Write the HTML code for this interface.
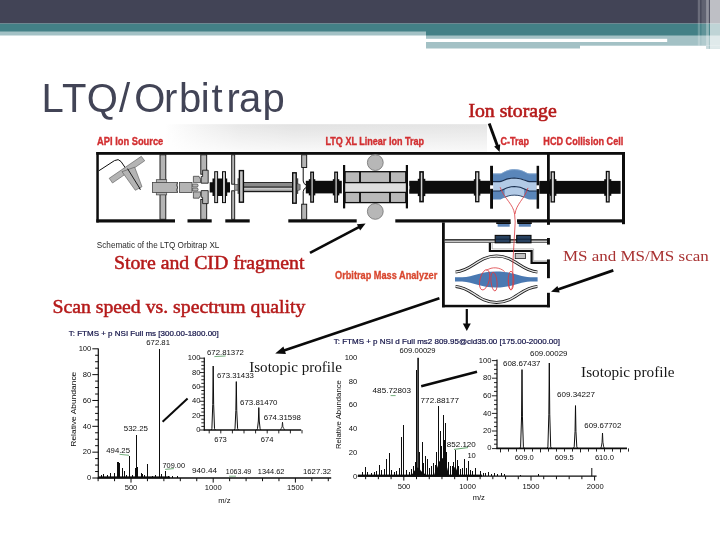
<!DOCTYPE html>
<html lang="en"><head><meta charset="utf-8"><title>LTQ/Orbitrap</title>
<style>html,body{margin:0;padding:0;background:#fff;}body{width:720px;height:540px;overflow:hidden;}svg{display:block;}</style>
</head><body>
<svg width="720" height="540" viewBox="0 0 720 540">
<defs>
<linearGradient id="gh" x1="0" y1="0" x2="1" y2="0"><stop offset="0" stop-color="#ffffff"/><stop offset="0.11" stop-color="#f3f3f3"/><stop offset="0.23" stop-color="#e8e8e8"/><stop offset="0.4" stop-color="#e2e2e2"/><stop offset="1" stop-color="#e5e5e5"/></linearGradient>
<linearGradient id="gv" x1="0" y1="0" x2="0" y2="1"><stop offset="0" stop-color="#ffffff" stop-opacity="0"/><stop offset="1" stop-color="#ffffff" stop-opacity="0.8"/></linearGradient>
<linearGradient id="rod" x1="0" y1="0" x2="0" y2="1"><stop offset="0" stop-color="#222"/><stop offset="0.1" stop-color="#333"/><stop offset="0.13" stop-color="#8a8a8a"/><stop offset="0.38" stop-color="#8a8a8a"/><stop offset="0.42" stop-color="#555"/><stop offset="0.54" stop-color="#555"/><stop offset="0.58" stop-color="#c8c8c8"/><stop offset="0.72" stop-color="#c8c8c8"/><stop offset="0.76" stop-color="#999"/><stop offset="0.88" stop-color="#999"/><stop offset="0.91" stop-color="#1a1a1a"/><stop offset="1" stop-color="#1a1a1a"/></linearGradient>
</defs>
<rect x="0" y="0" width="720" height="540" fill="#ffffff"/>
<g id="header">
<rect x="0.00" y="0.00" width="720.00" height="23.60" fill="#424456" />
<rect x="0.00" y="23.60" width="426.00" height="8.20" fill="#438086" />
<rect x="0.00" y="31.80" width="426.00" height="3.70" fill="#a3c1c5" />
<rect x="426.00" y="23.60" width="294.00" height="12.20" fill="#438086" />
<rect x="426.00" y="35.80" width="294.00" height="9.90" fill="#a3c1c5" />
<rect x="426.00" y="38.80" width="241.20" height="3.20" fill="#ffffff" />
<rect x="426.00" y="42.00" width="154.00" height="6.50" fill="#a3c1c5" />
<rect x="706.10" y="45.70" width="13.90" height="3.20" fill="#a3c1c5" />
<rect x="697.80" y="0.00" width="2.40" height="45.70" fill="#ffffff" opacity="0.22"/>
<rect x="701.40" y="0.00" width="4.70" height="45.70" fill="#ffffff" opacity="0.16"/>
<rect x="706.10" y="0.00" width="2.80" height="48.90" fill="#ffffff" opacity="0.42"/>
<rect x="709.90" y="0.00" width="10.10" height="48.90" fill="#ffffff" opacity="0.66"/>
</g>
<text x="41.6 61.9 86.8 118.9 134.2 164 179 200.8 211.4 226.6 238.9 262.6" y="112.3" font-family='"Liberation Sans", sans-serif' font-size="40" fill="#424456">LTQ/Orbitrap</text>
<g id="schematic">
<rect x="165.00" y="124.20" width="322.00" height="27.80" fill="url(#gh)" />
<rect x="165.00" y="124.20" width="322.00" height="27.80" fill="url(#gv)" />
<text x="97.0" y="144.8" font-family='"Liberation Sans", sans-serif' font-size="10.4" font-weight="bold" fill="#d22f31" text-anchor="start" textLength="66.3" lengthAdjust="spacingAndGlyphs" stroke="#d22f31" stroke-width="0.35">API Ion Source</text>
<text x="325.5" y="144.8" font-family='"Liberation Sans", sans-serif' font-size="10.4" font-weight="bold" fill="#d22f31" text-anchor="start" textLength="98.5" lengthAdjust="spacingAndGlyphs" stroke="#d22f31" stroke-width="0.35">LTQ XL Linear Ion Trap</text>
<text x="500.4" y="144.6" font-family='"Liberation Sans", sans-serif' font-size="10.4" font-weight="bold" fill="#d22f31" text-anchor="start" textLength="28.6" lengthAdjust="spacingAndGlyphs" stroke="#d22f31" stroke-width="0.35">C-Trap</text>
<text x="543.3" y="144.6" font-family='"Liberation Sans", sans-serif' font-size="10.4" font-weight="bold" fill="#d22f31" text-anchor="start" textLength="80.0" lengthAdjust="spacingAndGlyphs" stroke="#d22f31" stroke-width="0.35">HCD Collision Cell</text>
<text x="335.0" y="279.3" font-family='"Liberation Sans", sans-serif' font-size="10.4" font-weight="bold" fill="#d9472f" text-anchor="start" textLength="102.3" lengthAdjust="spacingAndGlyphs" stroke="#d9472f" stroke-width="0.3">Orbitrap Mass Analyzer</text>
<text x="96.8" y="248.0" font-family='"Liberation Sans", sans-serif' font-size="9.8" font-weight="normal" fill="#2a2a2a" text-anchor="start" textLength="122.6" lengthAdjust="spacingAndGlyphs" >Schematic of the LTQ Orbitrap XL</text>
<rect x="96.30" y="152.00" width="528.70" height="2.80" fill="#0d0d0d" />
<rect x="96.30" y="152.00" width="2.50" height="70.50" fill="#0d0d0d" />
<rect x="622.00" y="152.00" width="3.00" height="72.20" fill="#0d0d0d" />
<rect x="96.30" y="219.30" width="78.70" height="3.20" fill="#0d0d0d" />
<rect x="187.50" y="219.30" width="24.20" height="3.20" fill="#0d0d0d" />
<rect x="225.30" y="219.30" width="24.40" height="3.20" fill="#0d0d0d" />
<rect x="288.30" y="219.30" width="68.40" height="3.20" fill="#0d0d0d" />
<rect x="395.30" y="219.30" width="115.30" height="3.20" fill="#0d0d0d" />
<rect x="517.00" y="219.30" width="108.00" height="3.20" fill="#0d0d0d" />
<path d="M98.8,170.8 L114.5,160.6 Q118.5,158.2 121,161.5 L140.2,189.6" fill="none" stroke="#0d0d0d" stroke-width="1.0" />
<path d="M109.2,178.3 L141.3,156.3 L144.7,160.8 L112.5,183 Z" fill="#b4b4b4" stroke="#555" stroke-width="0.6" />
<path d="M122,171.7 L134.7,167.2 L142,186.7 L135.3,190.3 Z" fill="#b4b4b4" stroke="#555" stroke-width="0.6" />
<path d="M127.5,168.6 L140.4,189.4" fill="none" stroke="#0d0d0d" stroke-width="0.9" />
<rect x="160.00" y="154.80" width="5.80" height="25.20" fill="#b4b4b4" stroke="#0d0d0d" stroke-width="0.9" />
<rect x="160.00" y="194.50" width="5.80" height="24.80" fill="#b4b4b4" stroke="#0d0d0d" stroke-width="0.9" />
<rect x="156.30" y="179.70" width="10.40" height="15.20" fill="#b4b4b4" stroke="#444" stroke-width="0.7" />
<rect x="152.50" y="182.50" width="25.00" height="10.00" fill="#b4b4b4" stroke="#444" stroke-width="0.8" />
<path d="M177.5,182.5 q-1.6,2.5 0,5 q-1.6,2.5 0,5" fill="#fff" stroke="#222" stroke-width="0.8" />
<rect x="179.40" y="182.50" width="12.60" height="10.00" fill="#b4b4b4" stroke="#444" stroke-width="0.8" />
<path d="M193.4,176.3 L199,176.3 Q201.4,179 200.6,182.6 L193.4,182.6 Z" fill="#b4b4b4" stroke="#333" stroke-width="0.7" />
<path d="M193.4,198.2 L199,198.2 Q201.4,195.5 200.6,191.9 L193.4,191.9 Z" fill="#b4b4b4" stroke="#333" stroke-width="0.7" />
<path d="M192.6,184 L197.5,184 Q198.8,185.5 197.5,187 L192.6,187 Z" fill="#b4b4b4" stroke="#333" stroke-width="0.6" />
<path d="M192.6,188 L197.5,188 Q198.8,189.5 197.5,191 L192.6,191 Z" fill="#b4b4b4" stroke="#333" stroke-width="0.6" />
<rect x="200.80" y="154.80" width="5.90" height="19.40" fill="#b4b4b4" stroke="#0d0d0d" stroke-width="0.9" />
<rect x="200.80" y="199.40" width="5.90" height="19.90" fill="#b4b4b4" stroke="#0d0d0d" stroke-width="0.9" />
<path d="M202.6,170.2 L208.2,170.2 L208.2,183.2 L201.2,183.2 L201.2,176.5 L202.6,176.5 Z" fill="#b4b4b4" stroke="#0d0d0d" stroke-width="0.8" />
<path d="M202.6,203.6 L208.2,203.6 L208.2,190.6 L201.2,190.6 L201.2,197.3 L202.6,197.3 Z" fill="#b4b4b4" stroke="#0d0d0d" stroke-width="0.8" />
<path d="M209.7,182.2 L212.5,182.2 L212.5,178.5 L227.2,178.5 L227.2,182.2 L230,182.2 L230,192.4 L227.2,192.4 L227.2,196 L212.5,196 L212.5,192.4 L209.7,192.4 Z" fill="#0d0d0d" />
<rect x="214.70" y="171.70" width="2.90" height="30.90" fill="#c4c4c4" stroke="#0d0d0d" stroke-width="1.0" />
<rect x="222.50" y="171.70" width="3.00" height="30.90" fill="#c4c4c4" stroke="#0d0d0d" stroke-width="1.0" />
<rect x="231.70" y="154.80" width="3.00" height="29.40" fill="#b4b4b4" stroke="#0d0d0d" stroke-width="0.9" />
<rect x="231.70" y="190.80" width="3.00" height="28.50" fill="#b4b4b4" stroke="#0d0d0d" stroke-width="0.9" />
<rect x="234.70" y="184.60" width="4.30" height="5.60" fill="#9a9a9a" stroke="#222" stroke-width="0.6" />
<rect x="243.70" y="182.00" width="48.30" height="10.20" fill="url(#rod)" />
<rect x="239.40" y="170.60" width="4.00" height="31.60" fill="#c4c4c4" stroke="#0d0d0d" stroke-width="1.4" />
<rect x="237.60" y="178.30" width="1.60" height="15.60" fill="#444" />
<rect x="292.70" y="172.80" width="3.50" height="30.40" fill="#c4c4c4" stroke="#0d0d0d" stroke-width="1.4" />
<rect x="296.90" y="178.30" width="1.30" height="15.60" fill="#444" />
<path d="M297,183.5 L300.2,184.5 L300.2,189.8 L297,190.8 Z" fill="#8a8a8a" stroke="#222" stroke-width="0.5" />
<rect x="301.70" y="154.80" width="5.00" height="12.70" fill="#b4b4b4" stroke="#0d0d0d" stroke-width="0.9" />
<rect x="301.70" y="204.20" width="5.00" height="15.10" fill="#b4b4b4" stroke="#0d0d0d" stroke-width="0.9" />
<path d="M303.2,167.5 L303.2,181 Q303.4,184 306.3,185.2" fill="none" stroke="#0d0d0d" stroke-width="1.0" />
<path d="M303.2,204.2 L303.2,191.6 Q303.4,188.6 306.3,187.4" fill="none" stroke="#0d0d0d" stroke-width="1.0" />
<rect x="305.80" y="180.80" width="36.00" height="12.60" fill="#0d0d0d" />
<rect x="308.80" y="179.20" width="6.50" height="16.20" fill="#0d0d0d" />
<rect x="332.80" y="179.20" width="6.50" height="16.20" fill="#0d0d0d" />
<rect x="310.80" y="172.20" width="2.60" height="29.90" fill="#d0d0d0" stroke="#0d0d0d" stroke-width="1.3" />
<rect x="334.80" y="172.20" width="2.60" height="29.90" fill="#d0d0d0" stroke="#0d0d0d" stroke-width="1.3" />
<circle cx="375.3" cy="162.6" r="7.9" fill="#b7b7b7" stroke="#7a7a7a" stroke-width="0.9"/>
<circle cx="375.3" cy="211.4" r="7.9" fill="#b7b7b7" stroke="#7a7a7a" stroke-width="0.9"/>
<rect x="345.00" y="183.00" width="60.80" height="8.80" fill="#dedede" />
<rect x="345.00" y="171.70" width="60.80" height="10.90" fill="#b9b9b9" stroke="#0d0d0d" stroke-width="1.3" />
<rect x="345.00" y="192.40" width="60.80" height="10.20" fill="#b9b9b9" stroke="#0d0d0d" stroke-width="1.3" />
<rect x="359.10" y="171.70" width="1.80" height="10.90" fill="#0d0d0d" />
<rect x="359.10" y="192.40" width="1.80" height="10.20" fill="#0d0d0d" />
<rect x="389.10" y="171.70" width="1.80" height="10.90" fill="#0d0d0d" />
<rect x="389.10" y="192.40" width="1.80" height="10.20" fill="#0d0d0d" />
<rect x="343.00" y="165.00" width="2.20" height="43.40" fill="#0d0d0d" />
<rect x="405.80" y="165.00" width="2.20" height="43.40" fill="#0d0d0d" />
<rect x="409.20" y="180.80" width="80.80" height="12.90" fill="#0d0d0d" />
<rect x="408.00" y="185.80" width="1.40" height="3.60" fill="#fff" />
<rect x="417.80" y="178.80" width="7.50" height="17.30" fill="#0d0d0d" />
<rect x="473.80" y="179.20" width="6.60" height="16.40" fill="#0d0d0d" />
<rect x="420.00" y="171.90" width="3.10" height="29.70" fill="#d4d4d4" stroke="#0d0d0d" stroke-width="1.6" />
<rect x="475.70" y="171.80" width="3.10" height="29.90" fill="#d4d4d4" stroke="#0d0d0d" stroke-width="1.3" />
<path d="M492.8,173.60 L499.5,173.60 C503.0,173.60 505,169.50 514.4,169.30 C524,169.50 526.0,173.60 529.5,173.60 L536.8,173.60 L536.8,181.60 L529.5,181.60 C526.0,181.60 524,178.20 514.4,178.00 C505,178.20 503.0,181.60 499.5,181.60 L492.8,181.60 Z" fill="#5a86ba" />
<path d="M492.8,181.60 L499.5,181.60 C503.0,181.60 505,178.20 514.4,178.00 C524,178.20 526.0,181.60 529.5,181.60 L536.8,181.60 L536.8,191.00 L529.5,191.00 C526.0,191.00 524,186.70 514.4,186.50 C505,186.70 503.0,191.00 499.5,191.00 L492.8,191.00 Z" fill="#b2cae6" />
<path d="M492.8,191.00 L499.5,191.00 C503.0,191.00 505,186.70 514.4,186.50 C524,186.70 526.0,191.00 529.5,191.00 L536.8,191.00 L536.8,199.50 L529.5,199.50 C526.0,199.50 524,195.50 514.4,195.30 C505,195.50 503.0,199.50 499.5,199.50 L492.8,199.50 Z" fill="#5a86ba" />
<clipPath id="slot"><rect x="504.6" y="180" width="19.6" height="24"/></clipPath>
<path d="M492.8,191.00 L499.5,191.00 C503.0,191.00 505,186.70 514.4,186.50 C524,186.70 526.0,191.00 529.5,191.00 L536.8,191.00 L536.8,199.50 L529.5,199.50 C526.0,199.50 524,195.50 514.4,195.30 C505,195.50 503.0,199.50 499.5,199.50 L492.8,199.50 Z" fill="#b2cae6" clip-path="url(#slot)"/>
<path d="M492.8,173.90 L499.5,173.90 C503.0,173.90 505,169.80 514.4,169.60 C524,169.80 526.0,173.90 529.5,173.90 L536.8,173.90" fill="none" stroke="#8fb0d6" stroke-width="0.7" />
<path d="M492.8,181.60 L499.5,181.60 C503.0,181.60 505,178.20 514.4,178.00 C524,178.20 526.0,181.60 529.5,181.60 L536.8,181.60" fill="none" stroke="#1b3050" stroke-width="1.1" />
<path d="M492.8,191.00 L499.5,191.00 C503.0,191.00 505,186.70 514.4,186.50 C524,186.70 526.0,191.00 529.5,191.00 L536.8,191.00" fill="none" stroke="#1b3050" stroke-width="1.1" />
<path d="M492.8,199.30 L499.5,199.30 C503.0,199.30 505,195.30 514.4,195.10 C524,195.30 526.0,199.30 529.5,199.30 L536.8,199.30" fill="none" stroke="#1b3050" stroke-width="0.8" clip-path="url(#slot)"/>
<rect x="490.10" y="165.80" width="2.90" height="42.90" fill="#0d0d0d" />
<rect x="536.60" y="165.80" width="2.50" height="42.90" fill="#0d0d0d" />
<rect x="490.10" y="185.30" width="3.10" height="3.50" fill="#fff" />
<rect x="536.40" y="185.30" width="2.70" height="3.70" fill="#fff" />
<rect x="539.30" y="180.90" width="81.30" height="12.90" fill="#0d0d0d" />
<rect x="547.00" y="152.00" width="2.80" height="72.60" fill="#0d0d0d" />
<rect x="549.80" y="179.20" width="6.60" height="16.60" fill="#0d0d0d" />
<rect x="604.20" y="179.20" width="7.10" height="16.60" fill="#0d0d0d" />
<rect x="551.20" y="171.90" width="3.20" height="30.00" fill="#d4d4d4" stroke="#0d0d0d" stroke-width="1.3" />
<rect x="606.40" y="171.50" width="2.70" height="30.40" fill="#d4d4d4" stroke="#0d0d0d" stroke-width="1.3" />
<rect x="442.00" y="222.40" width="2.80" height="84.90" fill="#0d0d0d" />
<rect x="442.00" y="304.80" width="107.90" height="2.50" fill="#0d0d0d" />
<rect x="547.00" y="222.00" width="2.90" height="2.60" fill="#0d0d0d" />
<rect x="547.00" y="238.00" width="2.90" height="6.60" fill="#0d0d0d" />
<rect x="547.00" y="259.40" width="2.90" height="18.80" fill="#0d0d0d" />
<rect x="547.00" y="292.80" width="2.90" height="14.50" fill="#0d0d0d" />
<rect x="444.80" y="239.20" width="102.20" height="1.50" fill="#0d0d0d" />
<rect x="444.80" y="240.70" width="102.20" height="1.50" fill="#c8c8c8" />
<rect x="444.80" y="242.20" width="102.20" height="0.70" fill="#333" />
<path d="M489.9,242.8 L489.9,251 L531.6,251 L531.6,262.8 L547,262.8" fill="none" stroke="#0d0d0d" stroke-width="2.2" />
<path d="M492.2,242.8 L492.2,248.9 L533.6,248.9 L533.6,260.8 L547,260.8" fill="none" stroke="#8a8a8a" stroke-width="0.6" />
<rect x="515.20" y="253.40" width="10.20" height="5.20" fill="#c3c3c3" stroke="#222" stroke-width="0.8" />
<rect x="497.60" y="222.40" width="12.10" height="4.30" fill="#5c83b6" />
<rect x="496.20" y="222.20" width="14.50" height="1.80" fill="#0d0d0d" />
<rect x="518.80" y="222.40" width="12.00" height="4.30" fill="#5c83b6" />
<rect x="517.40" y="222.20" width="14.40" height="1.80" fill="#0d0d0d" />
<rect x="495.20" y="235.40" width="14.90" height="7.40" fill="#28415f" stroke="#0d0d0d" stroke-width="1.1" />
<line x1="495.20" y1="239.20" x2="510.10" y2="239.20" stroke="#0b1a30" stroke-width="0.8" />
<rect x="516.70" y="235.40" width="14.30" height="7.40" fill="#28415f" stroke="#0d0d0d" stroke-width="1.1" />
<line x1="516.70" y1="239.20" x2="531.00" y2="239.20" stroke="#0b1a30" stroke-width="0.8" />
<path d="M455.6,272.0 C472,271.0 478,256.0 496.5,256.0 C515,256.0 521,271.0 537.4,272.0" fill="none" stroke="#1a1a1a" stroke-width="3.0" />
<path d="M455.6,272.0 C472,271.0 478,256.0 496.5,256.0 C515,256.0 521,271.0 537.4,272.0" fill="none" stroke="#e4e4e4" stroke-width="1.3" />
<path d="M455.6,286.4 C472,287.4 478,302.4 496.5,302.4 C515,302.4 521,287.4 537.4,286.4" fill="none" stroke="#1a1a1a" stroke-width="3.0" />
<path d="M455.6,286.4 C472,287.4 478,302.4 496.5,302.4 C515,302.4 521,287.4 537.4,286.4" fill="none" stroke="#e4e4e4" stroke-width="1.3" />
<path d="M455,277.2 L462,277.2 C474,276.6 480,271.4 496.3,271.4 C512.5,271.4 518.5,276.6 530.4,277.2 L537.6,277.2 L537.6,281.6 L530.4,281.6 C518.5,282.2 512.5,287.6 496.3,287.6 C480,287.6 474,282.2 462,281.6 L455,281.6 Z" fill="#4a79b2" />
<path d="M500.1,187.2 C504.5,199 513.2,204 514.6,214 L515.2,222 L512.8,264 C512.6,275 513.6,285 511.8,288.6 C510.2,291 508.4,288 508.6,280" fill="none" stroke="#dc3a3f" stroke-width="0.8" />
<path d="M528,187.9 C524.5,199 516.2,204 515,214" fill="none" stroke="#dc3a3f" stroke-width="0.8" />
<ellipse cx="484.6" cy="279.8" rx="4.6" ry="10.4" fill="none" stroke="#dc3a3f" stroke-width="0.8" transform="rotate(14 484.6 279.8)"/>
<ellipse cx="494" cy="281.6" rx="3" ry="9.4" fill="none" stroke="#dc3a3f" stroke-width="0.8" transform="rotate(-6 494 281.6)"/>
<path d="M486.6,270.4 C492,266.4 500,267.2 504.6,271.6" fill="none" stroke="#dc3a3f" stroke-width="0.8" />
<ellipse cx="511" cy="280.6" rx="2.8" ry="9.4" fill="none" stroke="#dc3a3f" stroke-width="0.8"/>
</g>
<g id="spectra">
<text x="68.8" y="336.3" font-family='"Liberation Sans", sans-serif' font-size="7.6" font-weight="normal" fill="#101046" text-anchor="start" textLength="150.0" lengthAdjust="spacingAndGlyphs" stroke="#101046" stroke-width="0.2">T: FTMS + p NSI Full ms [300.00-1800.00]</text>
<text x="146.3" y="345.1" font-family='"Liberation Sans", sans-serif' font-size="7.6" font-weight="normal" fill="#0d0d0d" text-anchor="start" textLength="23.7" lengthAdjust="spacingAndGlyphs" >672.81</text>
<line x1="98.30" y1="348.40" x2="98.30" y2="478.60" stroke="#0d0d0d" stroke-width="1.2" />
<line x1="92.30" y1="348.80" x2="98.30" y2="348.80" stroke="#0d0d0d" stroke-width="1.0" />
<line x1="95.10" y1="355.26" x2="98.30" y2="355.26" stroke="#0d0d0d" stroke-width="1.0" />
<line x1="95.10" y1="361.72" x2="98.30" y2="361.72" stroke="#0d0d0d" stroke-width="1.0" />
<line x1="95.10" y1="368.18" x2="98.30" y2="368.18" stroke="#0d0d0d" stroke-width="1.0" />
<line x1="92.30" y1="374.64" x2="98.30" y2="374.64" stroke="#0d0d0d" stroke-width="1.0" />
<line x1="95.10" y1="381.10" x2="98.30" y2="381.10" stroke="#0d0d0d" stroke-width="1.0" />
<line x1="95.10" y1="387.56" x2="98.30" y2="387.56" stroke="#0d0d0d" stroke-width="1.0" />
<line x1="95.10" y1="394.02" x2="98.30" y2="394.02" stroke="#0d0d0d" stroke-width="1.0" />
<line x1="92.30" y1="400.48" x2="98.30" y2="400.48" stroke="#0d0d0d" stroke-width="1.0" />
<line x1="95.10" y1="406.94" x2="98.30" y2="406.94" stroke="#0d0d0d" stroke-width="1.0" />
<line x1="95.10" y1="413.40" x2="98.30" y2="413.40" stroke="#0d0d0d" stroke-width="1.0" />
<line x1="95.10" y1="419.86" x2="98.30" y2="419.86" stroke="#0d0d0d" stroke-width="1.0" />
<line x1="92.30" y1="426.32" x2="98.30" y2="426.32" stroke="#0d0d0d" stroke-width="1.0" />
<line x1="95.10" y1="432.78" x2="98.30" y2="432.78" stroke="#0d0d0d" stroke-width="1.0" />
<line x1="95.10" y1="439.24" x2="98.30" y2="439.24" stroke="#0d0d0d" stroke-width="1.0" />
<line x1="95.10" y1="445.70" x2="98.30" y2="445.70" stroke="#0d0d0d" stroke-width="1.0" />
<line x1="92.30" y1="452.16" x2="98.30" y2="452.16" stroke="#0d0d0d" stroke-width="1.0" />
<line x1="95.10" y1="458.62" x2="98.30" y2="458.62" stroke="#0d0d0d" stroke-width="1.0" />
<line x1="95.10" y1="465.08" x2="98.30" y2="465.08" stroke="#0d0d0d" stroke-width="1.0" />
<line x1="95.10" y1="471.54" x2="98.30" y2="471.54" stroke="#0d0d0d" stroke-width="1.0" />
<line x1="92.30" y1="478.00" x2="98.30" y2="478.00" stroke="#0d0d0d" stroke-width="1.0" />
<text x="91.3" y="350.9" font-family='"Liberation Sans", sans-serif' font-size="7.6" font-weight="normal" fill="#0d0d0d" text-anchor="end" >100</text>
<text x="91.3" y="376.7" font-family='"Liberation Sans", sans-serif' font-size="7.6" font-weight="normal" fill="#0d0d0d" text-anchor="end" >80</text>
<text x="91.3" y="402.6" font-family='"Liberation Sans", sans-serif' font-size="7.6" font-weight="normal" fill="#0d0d0d" text-anchor="end" >60</text>
<text x="91.3" y="428.5" font-family='"Liberation Sans", sans-serif' font-size="7.6" font-weight="normal" fill="#0d0d0d" text-anchor="end" >40</text>
<text x="91.3" y="454.3" font-family='"Liberation Sans", sans-serif' font-size="7.6" font-weight="normal" fill="#0d0d0d" text-anchor="end" >20</text>
<text x="91.3" y="480.1" font-family='"Liberation Sans", sans-serif' font-size="7.6" font-weight="normal" fill="#0d0d0d" text-anchor="end" >0</text>
<text transform="translate(76.4 409.2) rotate(-90)" font-family='"Liberation Sans", sans-serif' font-size="7.6" fill="#0d0d0d" text-anchor="middle" textLength="75" lengthAdjust="spacingAndGlyphs">Relative Abundance</text>
<line x1="97.70" y1="478.00" x2="331.20" y2="478.00" stroke="#0d0d0d" stroke-width="1.3" />
<line x1="98.12" y1="478.00" x2="98.12" y2="481.20" stroke="#0d0d0d" stroke-width="1.0" />
<line x1="114.56" y1="478.00" x2="114.56" y2="481.20" stroke="#0d0d0d" stroke-width="1.0" />
<line x1="131.00" y1="478.00" x2="131.00" y2="482.60" stroke="#0d0d0d" stroke-width="1.0" />
<line x1="147.44" y1="478.00" x2="147.44" y2="481.20" stroke="#0d0d0d" stroke-width="1.0" />
<line x1="163.88" y1="478.00" x2="163.88" y2="481.20" stroke="#0d0d0d" stroke-width="1.0" />
<line x1="180.32" y1="478.00" x2="180.32" y2="481.20" stroke="#0d0d0d" stroke-width="1.0" />
<line x1="196.76" y1="478.00" x2="196.76" y2="481.20" stroke="#0d0d0d" stroke-width="1.0" />
<line x1="213.20" y1="478.00" x2="213.20" y2="482.60" stroke="#0d0d0d" stroke-width="1.0" />
<line x1="229.64" y1="478.00" x2="229.64" y2="481.20" stroke="#0d0d0d" stroke-width="1.0" />
<line x1="246.08" y1="478.00" x2="246.08" y2="481.20" stroke="#0d0d0d" stroke-width="1.0" />
<line x1="262.52" y1="478.00" x2="262.52" y2="481.20" stroke="#0d0d0d" stroke-width="1.0" />
<line x1="278.96" y1="478.00" x2="278.96" y2="481.20" stroke="#0d0d0d" stroke-width="1.0" />
<line x1="295.40" y1="478.00" x2="295.40" y2="482.60" stroke="#0d0d0d" stroke-width="1.0" />
<line x1="311.84" y1="478.00" x2="311.84" y2="481.20" stroke="#0d0d0d" stroke-width="1.0" />
<line x1="328.28" y1="478.00" x2="328.28" y2="481.20" stroke="#0d0d0d" stroke-width="1.0" />
<text x="131.0" y="490.1" font-family='"Liberation Sans", sans-serif' font-size="7.6" font-weight="normal" fill="#0d0d0d" text-anchor="middle" >500</text>
<text x="213.2" y="490.1" font-family='"Liberation Sans", sans-serif' font-size="7.6" font-weight="normal" fill="#0d0d0d" text-anchor="middle" >1000</text>
<text x="295.4" y="490.1" font-family='"Liberation Sans", sans-serif' font-size="7.6" font-weight="normal" fill="#0d0d0d" text-anchor="middle" >1500</text>
<text x="224.4" y="502.9" font-family='"Liberation Sans", sans-serif' font-size="7.6" font-weight="normal" fill="#0d0d0d" text-anchor="middle" >m/z</text>
<g shape-rendering="crispEdges">
<line x1="159.50" y1="348.60" x2="159.50" y2="478.00" stroke="#0d0d0d" stroke-width="1.0" />
<line x1="136.30" y1="435.00" x2="136.30" y2="478.00" stroke="#0d0d0d" stroke-width="1.0" />
<line x1="129.50" y1="455.50" x2="129.50" y2="478.00" stroke="#0d0d0d" stroke-width="1.0" />
<line x1="117.40" y1="462.00" x2="117.40" y2="478.00" stroke="#0d0d0d" stroke-width="1.0" />
<line x1="118.40" y1="462.00" x2="118.40" y2="478.00" stroke="#0d0d0d" stroke-width="1.0" />
<line x1="119.40" y1="462.50" x2="119.40" y2="478.00" stroke="#0d0d0d" stroke-width="1.0" />
<line x1="147.50" y1="463.80" x2="147.50" y2="478.00" stroke="#0d0d0d" stroke-width="1.0" />
<line x1="165.50" y1="470.80" x2="165.50" y2="478.00" stroke="#0d0d0d" stroke-width="1.0" />
<line x1="122.50" y1="467.50" x2="122.50" y2="478.00" stroke="#0d0d0d" stroke-width="1.0" />
<line x1="124.50" y1="471.00" x2="124.50" y2="478.00" stroke="#0d0d0d" stroke-width="1.0" />
<line x1="114.50" y1="473.00" x2="114.50" y2="478.00" stroke="#0d0d0d" stroke-width="1.0" />
<line x1="110.50" y1="473.20" x2="110.50" y2="478.00" stroke="#0d0d0d" stroke-width="1.0" />
<line x1="103.00" y1="474.00" x2="103.00" y2="478.00" stroke="#0d0d0d" stroke-width="1.0" />
<line x1="101.20" y1="475.00" x2="101.20" y2="478.00" stroke="#0d0d0d" stroke-width="1.0" />
<line x1="137.60" y1="466.50" x2="137.60" y2="478.00" stroke="#0d0d0d" stroke-width="1.0" />
<line x1="135.20" y1="468.00" x2="135.20" y2="478.00" stroke="#0d0d0d" stroke-width="1.0" />
<line x1="141.20" y1="473.00" x2="141.20" y2="478.00" stroke="#0d0d0d" stroke-width="1.0" />
<line x1="142.60" y1="474.40" x2="142.60" y2="478.00" stroke="#0d0d0d" stroke-width="1.0" />
<line x1="161.20" y1="474.00" x2="161.20" y2="478.00" stroke="#0d0d0d" stroke-width="1.0" />
<line x1="126.40" y1="474.50" x2="126.40" y2="478.00" stroke="#0d0d0d" stroke-width="1.0" />
<line x1="132.00" y1="474.50" x2="132.00" y2="478.00" stroke="#0d0d0d" stroke-width="1.0" />
<line x1="107.20" y1="475.20" x2="107.20" y2="478.00" stroke="#0d0d0d" stroke-width="1.0" />
<line x1="144.80" y1="475.40" x2="144.80" y2="478.00" stroke="#0d0d0d" stroke-width="1.0" />
<line x1="152.00" y1="475.60" x2="152.00" y2="478.00" stroke="#0d0d0d" stroke-width="1.0" />
<line x1="155.80" y1="475.20" x2="155.80" y2="478.00" stroke="#0d0d0d" stroke-width="1.0" />
<line x1="168.60" y1="475.60" x2="168.60" y2="478.00" stroke="#0d0d0d" stroke-width="1.0" />
<line x1="172.40" y1="476.00" x2="172.40" y2="478.00" stroke="#0d0d0d" stroke-width="1.0" />
<line x1="177.00" y1="476.20" x2="177.00" y2="478.00" stroke="#0d0d0d" stroke-width="1.0" />
</g>
<rect x="98.30" y="476.40" width="71.70" height="2.00" fill="#0d0d0d" />
<text x="123.8" y="431.3" font-family='"Liberation Sans", sans-serif' font-size="7.6" font-weight="normal" fill="#0d0d0d" text-anchor="start" textLength="24.2" lengthAdjust="spacingAndGlyphs" >532.25</text>
<text x="106.3" y="452.8" font-family='"Liberation Sans", sans-serif' font-size="7.6" font-weight="normal" fill="#0d0d0d" text-anchor="start" textLength="23.7" lengthAdjust="spacingAndGlyphs" >494.25</text>
<text x="162.5" y="467.5" font-family='"Liberation Sans", sans-serif' font-size="7.6" font-weight="normal" fill="#0d0d0d" text-anchor="start" textLength="22.5" lengthAdjust="spacingAndGlyphs" >709.00</text>
<text x="192.0" y="473.1" font-family='"Liberation Sans", sans-serif' font-size="7.6" font-weight="normal" fill="#0d0d0d" text-anchor="start" textLength="25.0" lengthAdjust="spacingAndGlyphs" >940.44</text>
<text x="225.8" y="473.7" font-family='"Liberation Sans", sans-serif' font-size="7.6" font-weight="normal" fill="#0d0d0d" text-anchor="start" textLength="25.4" lengthAdjust="spacingAndGlyphs" >1063.49</text>
<text x="257.8" y="473.7" font-family='"Liberation Sans", sans-serif' font-size="7.6" font-weight="normal" fill="#0d0d0d" text-anchor="start" textLength="26.6" lengthAdjust="spacingAndGlyphs" >1344.62</text>
<text x="303.0" y="473.7" font-family='"Liberation Sans", sans-serif' font-size="7.6" font-weight="normal" fill="#0d0d0d" text-anchor="start" textLength="28.0" lengthAdjust="spacingAndGlyphs" >1627.32</text>
<line x1="119.50" y1="454.30" x2="129.00" y2="455.30" stroke="#4f9a5a" stroke-width="0.8" />
<line x1="165.20" y1="469.40" x2="173.80" y2="468.60" stroke="#4f9a5a" stroke-width="0.8" />
<line x1="229.00" y1="476.20" x2="236.00" y2="476.20" stroke="#4f9a5a" stroke-width="0.7" />
<line x1="204.30" y1="357.60" x2="204.30" y2="430.60" stroke="#0d0d0d" stroke-width="1.2" />
<line x1="199.70" y1="358.20" x2="204.30" y2="358.20" stroke="#0d0d0d" stroke-width="0.9" />
<line x1="201.30" y1="361.79" x2="204.30" y2="361.79" stroke="#0d0d0d" stroke-width="0.9" />
<line x1="201.30" y1="365.38" x2="204.30" y2="365.38" stroke="#0d0d0d" stroke-width="0.9" />
<line x1="201.30" y1="368.97" x2="204.30" y2="368.97" stroke="#0d0d0d" stroke-width="0.9" />
<line x1="199.70" y1="372.56" x2="204.30" y2="372.56" stroke="#0d0d0d" stroke-width="0.9" />
<line x1="201.30" y1="376.15" x2="204.30" y2="376.15" stroke="#0d0d0d" stroke-width="0.9" />
<line x1="201.30" y1="379.74" x2="204.30" y2="379.74" stroke="#0d0d0d" stroke-width="0.9" />
<line x1="201.30" y1="383.33" x2="204.30" y2="383.33" stroke="#0d0d0d" stroke-width="0.9" />
<line x1="199.70" y1="386.92" x2="204.30" y2="386.92" stroke="#0d0d0d" stroke-width="0.9" />
<line x1="201.30" y1="390.51" x2="204.30" y2="390.51" stroke="#0d0d0d" stroke-width="0.9" />
<line x1="201.30" y1="394.10" x2="204.30" y2="394.10" stroke="#0d0d0d" stroke-width="0.9" />
<line x1="201.30" y1="397.69" x2="204.30" y2="397.69" stroke="#0d0d0d" stroke-width="0.9" />
<line x1="199.70" y1="401.28" x2="204.30" y2="401.28" stroke="#0d0d0d" stroke-width="0.9" />
<line x1="201.30" y1="404.87" x2="204.30" y2="404.87" stroke="#0d0d0d" stroke-width="0.9" />
<line x1="201.30" y1="408.46" x2="204.30" y2="408.46" stroke="#0d0d0d" stroke-width="0.9" />
<line x1="201.30" y1="412.05" x2="204.30" y2="412.05" stroke="#0d0d0d" stroke-width="0.9" />
<line x1="199.70" y1="415.64" x2="204.30" y2="415.64" stroke="#0d0d0d" stroke-width="0.9" />
<line x1="201.30" y1="419.23" x2="204.30" y2="419.23" stroke="#0d0d0d" stroke-width="0.9" />
<line x1="201.30" y1="422.82" x2="204.30" y2="422.82" stroke="#0d0d0d" stroke-width="0.9" />
<line x1="201.30" y1="426.41" x2="204.30" y2="426.41" stroke="#0d0d0d" stroke-width="0.9" />
<line x1="199.70" y1="430.00" x2="204.30" y2="430.00" stroke="#0d0d0d" stroke-width="0.9" />
<text x="200.4" y="360.1" font-family='"Liberation Sans", sans-serif' font-size="7.6" font-weight="normal" fill="#0d0d0d" text-anchor="end" >100</text>
<text x="200.4" y="374.5" font-family='"Liberation Sans", sans-serif' font-size="7.6" font-weight="normal" fill="#0d0d0d" text-anchor="end" >80</text>
<text x="200.4" y="388.9" font-family='"Liberation Sans", sans-serif' font-size="7.6" font-weight="normal" fill="#0d0d0d" text-anchor="end" >60</text>
<text x="200.4" y="403.3" font-family='"Liberation Sans", sans-serif' font-size="7.6" font-weight="normal" fill="#0d0d0d" text-anchor="end" >40</text>
<text x="200.4" y="417.6" font-family='"Liberation Sans", sans-serif' font-size="7.6" font-weight="normal" fill="#0d0d0d" text-anchor="end" >20</text>
<text x="200.4" y="431.9" font-family='"Liberation Sans", sans-serif' font-size="7.6" font-weight="normal" fill="#0d0d0d" text-anchor="end" >0</text>
<line x1="203.70" y1="430.00" x2="301.20" y2="430.00" stroke="#0d0d0d" stroke-width="1.4" />
<line x1="209.20" y1="430.00" x2="209.20" y2="433.40" stroke="#0d0d0d" stroke-width="0.9" />
<line x1="220.80" y1="430.00" x2="220.80" y2="433.40" stroke="#0d0d0d" stroke-width="0.9" />
<line x1="232.40" y1="430.00" x2="232.40" y2="433.40" stroke="#0d0d0d" stroke-width="0.9" />
<line x1="244.00" y1="430.00" x2="244.00" y2="433.40" stroke="#0d0d0d" stroke-width="0.9" />
<line x1="255.60" y1="430.00" x2="255.60" y2="433.40" stroke="#0d0d0d" stroke-width="0.9" />
<line x1="267.20" y1="430.00" x2="267.20" y2="433.40" stroke="#0d0d0d" stroke-width="0.9" />
<line x1="278.80" y1="430.00" x2="278.80" y2="433.40" stroke="#0d0d0d" stroke-width="0.9" />
<line x1="290.40" y1="430.00" x2="290.40" y2="433.40" stroke="#0d0d0d" stroke-width="0.9" />
<line x1="302.00" y1="430.00" x2="302.00" y2="433.40" stroke="#0d0d0d" stroke-width="0.9" />
<text x="220.5" y="441.9" font-family='"Liberation Sans", sans-serif' font-size="7.6" font-weight="normal" fill="#0d0d0d" text-anchor="middle" >673</text>
<text x="267.2" y="441.9" font-family='"Liberation Sans", sans-serif' font-size="7.6" font-weight="normal" fill="#0d0d0d" text-anchor="middle" >674</text>
<path d="M211.1,430.0 L211.9,428.5 L212.75,404.4 L213.2,366.0 L213.65,404.4 L214.5,428.5 L215.3,430.0" fill="none" stroke="#0d0d0d" stroke-width="1.0" stroke-linejoin="miter"/>
<path d="M234.2,430.0 L235.0,428.5 L235.85,410.6 L236.3,381.6 L236.75,410.6 L237.6,428.5 L238.4,430.0" fill="none" stroke="#0d0d0d" stroke-width="1.0" stroke-linejoin="miter"/>
<path d="M256.7,430.0 L257.5,428.5 L258.35,421.0 L258.8,407.6 L259.25,421.0 L260.1,428.5 L260.9,430.0" fill="none" stroke="#0d0d0d" stroke-width="1.0" stroke-linejoin="miter"/>
<path d="M280.3,430.0 L281.2,428.5 L282.05,426.9 L282.5,422.2 L282.95,426.9 L283.8,428.5 L284.7,430.0" fill="none" stroke="#0d0d0d" stroke-width="0.8" stroke-linejoin="miter"/>
<text x="207.0" y="354.5" font-family='"Liberation Sans", sans-serif' font-size="7.6" font-weight="normal" fill="#0d0d0d" text-anchor="start" textLength="36.8" lengthAdjust="spacingAndGlyphs" >672.81372</text>
<text x="217.0" y="378.1" font-family='"Liberation Sans", sans-serif' font-size="7.6" font-weight="normal" fill="#0d0d0d" text-anchor="start" textLength="36.8" lengthAdjust="spacingAndGlyphs" >673.31433</text>
<text x="240.0" y="405.1" font-family='"Liberation Sans", sans-serif' font-size="7.6" font-weight="normal" fill="#0d0d0d" text-anchor="start" textLength="37.5" lengthAdjust="spacingAndGlyphs" >673.81470</text>
<text x="263.8" y="420.1" font-family='"Liberation Sans", sans-serif' font-size="7.6" font-weight="normal" fill="#0d0d0d" text-anchor="start" textLength="37.2" lengthAdjust="spacingAndGlyphs" >674.31598</text>
<line x1="214.40" y1="356.60" x2="225.60" y2="356.00" stroke="#4f9a5a" stroke-width="0.8" />
<text x="333.8" y="343.9" font-family='"Liberation Sans", sans-serif' font-size="7.6" font-weight="normal" fill="#101046" text-anchor="start" textLength="226.2" lengthAdjust="spacingAndGlyphs" stroke="#101046" stroke-width="0.2">T: FTMS + p NSI d Full ms2 809.95@cid35.00 [175.00-2000.00]</text>
<text x="399.6" y="353.1" font-family='"Liberation Sans", sans-serif' font-size="7.6" font-weight="normal" fill="#0d0d0d" text-anchor="start" textLength="36.0" lengthAdjust="spacingAndGlyphs" >609.00029</text>
<text x="357.3" y="359.7" font-family='"Liberation Sans", sans-serif' font-size="7.6" font-weight="normal" fill="#0d0d0d" text-anchor="end" >100</text>
<text x="357.3" y="383.5" font-family='"Liberation Sans", sans-serif' font-size="7.6" font-weight="normal" fill="#0d0d0d" text-anchor="end" >80</text>
<text x="357.3" y="407.4" font-family='"Liberation Sans", sans-serif' font-size="7.6" font-weight="normal" fill="#0d0d0d" text-anchor="end" >60</text>
<text x="357.3" y="431.3" font-family='"Liberation Sans", sans-serif' font-size="7.6" font-weight="normal" fill="#0d0d0d" text-anchor="end" >40</text>
<text x="357.3" y="455.1" font-family='"Liberation Sans", sans-serif' font-size="7.6" font-weight="normal" fill="#0d0d0d" text-anchor="end" >20</text>
<text x="357.3" y="478.5" font-family='"Liberation Sans", sans-serif' font-size="7.6" font-weight="normal" fill="#0d0d0d" text-anchor="end" >0</text>
<text transform="translate(341 414.6) rotate(-90)" font-family='"Liberation Sans", sans-serif' font-size="7.6" fill="#0d0d0d" text-anchor="middle" textLength="69" lengthAdjust="spacingAndGlyphs">Relative Abundance</text>
<line x1="357.60" y1="476.20" x2="596.60" y2="476.20" stroke="#0d0d0d" stroke-width="1.3" />
<line x1="365.64" y1="476.20" x2="365.64" y2="479.20" stroke="#0d0d0d" stroke-width="1.0" />
<line x1="378.36" y1="476.20" x2="378.36" y2="479.20" stroke="#0d0d0d" stroke-width="1.0" />
<line x1="391.08" y1="476.20" x2="391.08" y2="479.20" stroke="#0d0d0d" stroke-width="1.0" />
<line x1="403.80" y1="476.20" x2="403.80" y2="480.60" stroke="#0d0d0d" stroke-width="1.0" />
<line x1="416.52" y1="476.20" x2="416.52" y2="479.20" stroke="#0d0d0d" stroke-width="1.0" />
<line x1="429.24" y1="476.20" x2="429.24" y2="479.20" stroke="#0d0d0d" stroke-width="1.0" />
<line x1="441.96" y1="476.20" x2="441.96" y2="479.20" stroke="#0d0d0d" stroke-width="1.0" />
<line x1="454.68" y1="476.20" x2="454.68" y2="479.20" stroke="#0d0d0d" stroke-width="1.0" />
<line x1="467.40" y1="476.20" x2="467.40" y2="480.60" stroke="#0d0d0d" stroke-width="1.0" />
<line x1="480.12" y1="476.20" x2="480.12" y2="479.20" stroke="#0d0d0d" stroke-width="1.0" />
<line x1="492.84" y1="476.20" x2="492.84" y2="479.20" stroke="#0d0d0d" stroke-width="1.0" />
<line x1="505.56" y1="476.20" x2="505.56" y2="479.20" stroke="#0d0d0d" stroke-width="1.0" />
<line x1="518.28" y1="476.20" x2="518.28" y2="479.20" stroke="#0d0d0d" stroke-width="1.0" />
<line x1="531.00" y1="476.20" x2="531.00" y2="480.60" stroke="#0d0d0d" stroke-width="1.0" />
<line x1="543.72" y1="476.20" x2="543.72" y2="479.20" stroke="#0d0d0d" stroke-width="1.0" />
<line x1="556.44" y1="476.20" x2="556.44" y2="479.20" stroke="#0d0d0d" stroke-width="1.0" />
<line x1="569.16" y1="476.20" x2="569.16" y2="479.20" stroke="#0d0d0d" stroke-width="1.0" />
<line x1="581.88" y1="476.20" x2="581.88" y2="479.20" stroke="#0d0d0d" stroke-width="1.0" />
<line x1="594.60" y1="476.20" x2="594.60" y2="480.60" stroke="#0d0d0d" stroke-width="1.0" />
<line x1="591.80" y1="468.00" x2="591.80" y2="476.20" stroke="#0d0d0d" stroke-width="1.0" />
<text x="404.0" y="488.7" font-family='"Liberation Sans", sans-serif' font-size="7.6" font-weight="normal" fill="#0d0d0d" text-anchor="middle" >500</text>
<text x="467.6" y="488.7" font-family='"Liberation Sans", sans-serif' font-size="7.6" font-weight="normal" fill="#0d0d0d" text-anchor="middle" >1000</text>
<text x="531.0" y="488.7" font-family='"Liberation Sans", sans-serif' font-size="7.6" font-weight="normal" fill="#0d0d0d" text-anchor="middle" >1500</text>
<text x="595.2" y="488.7" font-family='"Liberation Sans", sans-serif' font-size="7.6" font-weight="normal" fill="#0d0d0d" text-anchor="middle" >2000</text>
<text x="478.8" y="500.1" font-family='"Liberation Sans", sans-serif' font-size="7.6" font-weight="normal" fill="#0d0d0d" text-anchor="middle" >m/z</text>
<rect x="417.30" y="357.80" width="1.60" height="118.40" fill="#0d0d0d" />
<g shape-rendering="crispEdges">
<line x1="365.00" y1="467.00" x2="365.00" y2="476.20" stroke="#0d0d0d" stroke-width="1.0" />
<line x1="379.30" y1="465.00" x2="379.30" y2="476.20" stroke="#0d0d0d" stroke-width="1.0" />
<line x1="386.30" y1="459.30" x2="386.30" y2="476.20" stroke="#0d0d0d" stroke-width="1.0" />
<line x1="389.50" y1="452.50" x2="389.50" y2="476.20" stroke="#0d0d0d" stroke-width="1.0" />
<line x1="399.50" y1="467.50" x2="399.50" y2="476.20" stroke="#0d0d0d" stroke-width="1.0" />
<line x1="401.50" y1="437.00" x2="401.50" y2="476.20" stroke="#0d0d0d" stroke-width="1.0" />
<line x1="403.30" y1="425.00" x2="403.30" y2="476.20" stroke="#0d0d0d" stroke-width="1.0" />
<line x1="416.50" y1="369.60" x2="416.50" y2="476.20" stroke="#0d0d0d" stroke-width="1.0" />
<line x1="422.00" y1="442.00" x2="422.00" y2="476.20" stroke="#0d0d0d" stroke-width="1.0" />
<line x1="425.00" y1="455.50" x2="425.00" y2="476.20" stroke="#0d0d0d" stroke-width="1.0" />
<line x1="427.00" y1="458.80" x2="427.00" y2="476.20" stroke="#0d0d0d" stroke-width="1.0" />
<line x1="435.00" y1="464.50" x2="435.00" y2="476.20" stroke="#0d0d0d" stroke-width="1.0" />
<line x1="438.80" y1="406.20" x2="438.80" y2="476.20" stroke="#0d0d0d" stroke-width="1.0" />
<line x1="440.80" y1="431.20" x2="440.80" y2="476.20" stroke="#0d0d0d" stroke-width="1.0" />
<line x1="443.00" y1="414.50" x2="443.00" y2="476.20" stroke="#0d0d0d" stroke-width="1.0" />
<line x1="445.00" y1="422.50" x2="445.00" y2="476.20" stroke="#0d0d0d" stroke-width="1.0" />
<line x1="450.00" y1="466.00" x2="450.00" y2="476.20" stroke="#0d0d0d" stroke-width="1.0" />
<line x1="455.00" y1="450.00" x2="455.00" y2="476.20" stroke="#0d0d0d" stroke-width="1.0" />
<line x1="457.00" y1="460.00" x2="457.00" y2="476.20" stroke="#0d0d0d" stroke-width="1.0" />
<line x1="464.50" y1="458.80" x2="464.50" y2="476.20" stroke="#0d0d0d" stroke-width="1.0" />
<line x1="468.80" y1="461.20" x2="468.80" y2="476.20" stroke="#0d0d0d" stroke-width="1.0" />
<line x1="472.50" y1="471.00" x2="472.50" y2="476.20" stroke="#0d0d0d" stroke-width="1.0" />
<line x1="475.50" y1="467.50" x2="475.50" y2="476.20" stroke="#0d0d0d" stroke-width="1.0" />
<line x1="480.00" y1="471.00" x2="480.00" y2="476.20" stroke="#0d0d0d" stroke-width="1.0" />
<line x1="362.00" y1="472.00" x2="362.00" y2="476.20" stroke="#0d0d0d" stroke-width="1.0" />
<line x1="367.50" y1="471.50" x2="367.50" y2="476.20" stroke="#0d0d0d" stroke-width="1.0" />
<line x1="371.00" y1="473.00" x2="371.00" y2="476.20" stroke="#0d0d0d" stroke-width="1.0" />
<line x1="374.00" y1="472.00" x2="374.00" y2="476.20" stroke="#0d0d0d" stroke-width="1.0" />
<line x1="376.60" y1="470.50" x2="376.60" y2="476.20" stroke="#0d0d0d" stroke-width="1.0" />
<line x1="381.60" y1="470.00" x2="381.60" y2="476.20" stroke="#0d0d0d" stroke-width="1.0" />
<line x1="384.00" y1="468.50" x2="384.00" y2="476.20" stroke="#0d0d0d" stroke-width="1.0" />
<line x1="391.60" y1="470.00" x2="391.60" y2="476.20" stroke="#0d0d0d" stroke-width="1.0" />
<line x1="394.00" y1="472.40" x2="394.00" y2="476.20" stroke="#0d0d0d" stroke-width="1.0" />
<line x1="396.60" y1="471.00" x2="396.60" y2="476.20" stroke="#0d0d0d" stroke-width="1.0" />
<line x1="406.00" y1="470.00" x2="406.00" y2="476.20" stroke="#0d0d0d" stroke-width="1.0" />
<line x1="409.00" y1="472.00" x2="409.00" y2="476.20" stroke="#0d0d0d" stroke-width="1.0" />
<line x1="411.60" y1="469.00" x2="411.60" y2="476.20" stroke="#0d0d0d" stroke-width="1.0" />
<line x1="413.60" y1="466.00" x2="413.60" y2="476.20" stroke="#0d0d0d" stroke-width="1.0" />
<line x1="415.00" y1="462.00" x2="415.00" y2="476.20" stroke="#0d0d0d" stroke-width="1.0" />
<line x1="419.80" y1="452.00" x2="419.80" y2="476.20" stroke="#0d0d0d" stroke-width="1.0" />
<line x1="423.40" y1="463.00" x2="423.40" y2="476.20" stroke="#0d0d0d" stroke-width="1.0" />
<line x1="429.00" y1="468.00" x2="429.00" y2="476.20" stroke="#0d0d0d" stroke-width="1.0" />
<line x1="431.00" y1="466.00" x2="431.00" y2="476.20" stroke="#0d0d0d" stroke-width="1.0" />
<line x1="433.00" y1="463.00" x2="433.00" y2="476.20" stroke="#0d0d0d" stroke-width="1.0" />
<line x1="436.60" y1="452.00" x2="436.60" y2="476.20" stroke="#0d0d0d" stroke-width="1.0" />
<line x1="441.80" y1="446.00" x2="441.80" y2="476.20" stroke="#0d0d0d" stroke-width="1.0" />
<line x1="444.00" y1="440.00" x2="444.00" y2="476.20" stroke="#0d0d0d" stroke-width="1.0" />
<line x1="446.40" y1="452.00" x2="446.40" y2="476.20" stroke="#0d0d0d" stroke-width="1.0" />
<line x1="448.00" y1="462.00" x2="448.00" y2="476.20" stroke="#0d0d0d" stroke-width="1.0" />
<line x1="452.00" y1="466.00" x2="452.00" y2="476.20" stroke="#0d0d0d" stroke-width="1.0" />
<line x1="453.60" y1="462.00" x2="453.60" y2="476.20" stroke="#0d0d0d" stroke-width="1.0" />
<line x1="458.60" y1="466.00" x2="458.60" y2="476.20" stroke="#0d0d0d" stroke-width="1.0" />
<line x1="460.40" y1="469.00" x2="460.40" y2="476.20" stroke="#0d0d0d" stroke-width="1.0" />
<line x1="462.60" y1="468.00" x2="462.60" y2="476.20" stroke="#0d0d0d" stroke-width="1.0" />
<line x1="466.40" y1="468.00" x2="466.40" y2="476.20" stroke="#0d0d0d" stroke-width="1.0" />
<line x1="470.40" y1="470.00" x2="470.40" y2="476.20" stroke="#0d0d0d" stroke-width="1.0" />
<line x1="483.00" y1="472.60" x2="483.00" y2="476.20" stroke="#0d0d0d" stroke-width="1.0" />
<line x1="485.40" y1="473.20" x2="485.40" y2="476.20" stroke="#0d0d0d" stroke-width="1.0" />
<line x1="488.00" y1="472.00" x2="488.00" y2="476.20" stroke="#0d0d0d" stroke-width="1.0" />
<line x1="491.00" y1="473.60" x2="491.00" y2="476.20" stroke="#0d0d0d" stroke-width="1.0" />
<line x1="494.00" y1="473.20" x2="494.00" y2="476.20" stroke="#0d0d0d" stroke-width="1.0" />
<line x1="497.60" y1="474.00" x2="497.60" y2="476.20" stroke="#0d0d0d" stroke-width="1.0" />
<line x1="501.00" y1="473.40" x2="501.00" y2="476.20" stroke="#0d0d0d" stroke-width="1.0" />
<line x1="504.60" y1="474.40" x2="504.60" y2="476.20" stroke="#0d0d0d" stroke-width="1.0" />
<line x1="520.00" y1="474.60" x2="520.00" y2="476.20" stroke="#0d0d0d" stroke-width="1.0" />
<line x1="538.00" y1="474.40" x2="538.00" y2="476.20" stroke="#0d0d0d" stroke-width="1.0" />
</g>
<path d="M411,476.2 L413,473 L415,470 L417,467.5 L419,468 L421,471 L423,472.5 L425,474 L427,476.2 Z" fill="#0d0d0d" />
<path d="M434,476.2 L435,472 L437,468 L439,462 L441,459 L443,458 L445,459 L446.5,465 L448,471 L449,476.2 Z" fill="#0d0d0d" />
<path d="M452,476.2 L453,472 L454.5,467 L456,468 L457.5,472 L459,476.2 Z" fill="#0d0d0d" />
<rect x="358.00" y="474.60" width="124.00" height="2.20" fill="#0d0d0d" />
<text x="372.6" y="393.1" font-family='"Liberation Sans", sans-serif' font-size="7.6" font-weight="normal" fill="#0d0d0d" text-anchor="start" textLength="38.4" lengthAdjust="spacingAndGlyphs" >485.72803</text>
<text x="420.6" y="402.7" font-family='"Liberation Sans", sans-serif' font-size="7.6" font-weight="normal" fill="#0d0d0d" text-anchor="start" textLength="38.4" lengthAdjust="spacingAndGlyphs" >772.88177</text>
<text x="446.8" y="446.9" font-family='"Liberation Sans", sans-serif' font-size="7.6" font-weight="normal" fill="#0d0d0d" text-anchor="start" textLength="29.0" lengthAdjust="spacingAndGlyphs" >852.120</text>
<text x="467.4" y="458.1" font-family='"Liberation Sans", sans-serif' font-size="7.6" font-weight="normal" fill="#0d0d0d" text-anchor="start" >10</text>
<line x1="390.60" y1="395.60" x2="395.60" y2="395.60" stroke="#4f9a5a" stroke-width="0.8" />
<line x1="454.00" y1="449.40" x2="468.00" y2="447.60" stroke="#4f9a5a" stroke-width="0.9" />
<rect x="478.00" y="348.00" width="150.00" height="114.60" fill="#ffffff" />
<text x="503.0" y="365.7" font-family='"Liberation Sans", sans-serif' font-size="7.6" font-weight="normal" fill="#0d0d0d" text-anchor="start" textLength="37.5" lengthAdjust="spacingAndGlyphs" >608.67437</text>
<text x="530.0" y="355.7" font-family='"Liberation Sans", sans-serif' font-size="7.6" font-weight="normal" fill="#0d0d0d" text-anchor="start" textLength="37.5" lengthAdjust="spacingAndGlyphs" >609.00029</text>
<text x="557.0" y="397.1" font-family='"Liberation Sans", sans-serif' font-size="7.6" font-weight="normal" fill="#0d0d0d" text-anchor="start" textLength="38.0" lengthAdjust="spacingAndGlyphs" >609.34227</text>
<text x="584.3" y="428.3" font-family='"Liberation Sans", sans-serif' font-size="7.6" font-weight="normal" fill="#0d0d0d" text-anchor="start" textLength="37.0" lengthAdjust="spacingAndGlyphs" >609.67702</text>
<line x1="497.00" y1="359.60" x2="497.00" y2="448.60" stroke="#0d0d0d" stroke-width="1.2" />
<line x1="492.00" y1="360.60" x2="497.00" y2="360.60" stroke="#0d0d0d" stroke-width="0.9" />
<line x1="494.00" y1="365.00" x2="497.00" y2="365.00" stroke="#0d0d0d" stroke-width="0.9" />
<line x1="494.00" y1="369.40" x2="497.00" y2="369.40" stroke="#0d0d0d" stroke-width="0.9" />
<line x1="494.00" y1="373.80" x2="497.00" y2="373.80" stroke="#0d0d0d" stroke-width="0.9" />
<line x1="492.00" y1="378.20" x2="497.00" y2="378.20" stroke="#0d0d0d" stroke-width="0.9" />
<line x1="494.00" y1="382.60" x2="497.00" y2="382.60" stroke="#0d0d0d" stroke-width="0.9" />
<line x1="494.00" y1="387.00" x2="497.00" y2="387.00" stroke="#0d0d0d" stroke-width="0.9" />
<line x1="494.00" y1="391.40" x2="497.00" y2="391.40" stroke="#0d0d0d" stroke-width="0.9" />
<line x1="492.00" y1="395.80" x2="497.00" y2="395.80" stroke="#0d0d0d" stroke-width="0.9" />
<line x1="494.00" y1="400.20" x2="497.00" y2="400.20" stroke="#0d0d0d" stroke-width="0.9" />
<line x1="494.00" y1="404.60" x2="497.00" y2="404.60" stroke="#0d0d0d" stroke-width="0.9" />
<line x1="494.00" y1="409.00" x2="497.00" y2="409.00" stroke="#0d0d0d" stroke-width="0.9" />
<line x1="492.00" y1="413.40" x2="497.00" y2="413.40" stroke="#0d0d0d" stroke-width="0.9" />
<line x1="494.00" y1="417.80" x2="497.00" y2="417.80" stroke="#0d0d0d" stroke-width="0.9" />
<line x1="494.00" y1="422.20" x2="497.00" y2="422.20" stroke="#0d0d0d" stroke-width="0.9" />
<line x1="494.00" y1="426.60" x2="497.00" y2="426.60" stroke="#0d0d0d" stroke-width="0.9" />
<line x1="492.00" y1="431.00" x2="497.00" y2="431.00" stroke="#0d0d0d" stroke-width="0.9" />
<line x1="494.00" y1="435.40" x2="497.00" y2="435.40" stroke="#0d0d0d" stroke-width="0.9" />
<line x1="494.00" y1="439.80" x2="497.00" y2="439.80" stroke="#0d0d0d" stroke-width="0.9" />
<line x1="494.00" y1="444.20" x2="497.00" y2="444.20" stroke="#0d0d0d" stroke-width="0.9" />
<line x1="492.00" y1="448.60" x2="497.00" y2="448.60" stroke="#0d0d0d" stroke-width="0.9" />
<text x="491.4" y="362.5" font-family='"Liberation Sans", sans-serif' font-size="7.6" font-weight="normal" fill="#0d0d0d" text-anchor="end" >100</text>
<text x="491.4" y="380.1" font-family='"Liberation Sans", sans-serif' font-size="7.6" font-weight="normal" fill="#0d0d0d" text-anchor="end" >80</text>
<text x="491.4" y="397.9" font-family='"Liberation Sans", sans-serif' font-size="7.6" font-weight="normal" fill="#0d0d0d" text-anchor="end" >60</text>
<text x="491.4" y="415.7" font-family='"Liberation Sans", sans-serif' font-size="7.6" font-weight="normal" fill="#0d0d0d" text-anchor="end" >40</text>
<text x="491.4" y="433.3" font-family='"Liberation Sans", sans-serif' font-size="7.6" font-weight="normal" fill="#0d0d0d" text-anchor="end" >20</text>
<text x="491.4" y="450.3" font-family='"Liberation Sans", sans-serif' font-size="7.6" font-weight="normal" fill="#0d0d0d" text-anchor="end" >0</text>
<line x1="496.40" y1="448.40" x2="627.00" y2="448.40" stroke="#0d0d0d" stroke-width="1.6" />
<line x1="500.50" y1="448.40" x2="500.50" y2="452.40" stroke="#0d0d0d" stroke-width="0.9" />
<line x1="508.50" y1="448.40" x2="508.50" y2="451.60" stroke="#0d0d0d" stroke-width="0.9" />
<line x1="516.50" y1="448.40" x2="516.50" y2="451.60" stroke="#0d0d0d" stroke-width="0.9" />
<line x1="524.50" y1="448.40" x2="524.50" y2="451.60" stroke="#0d0d0d" stroke-width="0.9" />
<line x1="532.50" y1="448.40" x2="532.50" y2="451.60" stroke="#0d0d0d" stroke-width="0.9" />
<line x1="540.50" y1="448.40" x2="540.50" y2="452.40" stroke="#0d0d0d" stroke-width="0.9" />
<line x1="548.50" y1="448.40" x2="548.50" y2="451.60" stroke="#0d0d0d" stroke-width="0.9" />
<line x1="556.50" y1="448.40" x2="556.50" y2="451.60" stroke="#0d0d0d" stroke-width="0.9" />
<line x1="564.50" y1="448.40" x2="564.50" y2="451.60" stroke="#0d0d0d" stroke-width="0.9" />
<line x1="572.50" y1="448.40" x2="572.50" y2="451.60" stroke="#0d0d0d" stroke-width="0.9" />
<line x1="580.50" y1="448.40" x2="580.50" y2="452.40" stroke="#0d0d0d" stroke-width="0.9" />
<line x1="588.50" y1="448.40" x2="588.50" y2="451.60" stroke="#0d0d0d" stroke-width="0.9" />
<line x1="596.50" y1="448.40" x2="596.50" y2="451.60" stroke="#0d0d0d" stroke-width="0.9" />
<line x1="604.50" y1="448.40" x2="604.50" y2="451.60" stroke="#0d0d0d" stroke-width="0.9" />
<line x1="612.50" y1="448.40" x2="612.50" y2="451.60" stroke="#0d0d0d" stroke-width="0.9" />
<line x1="620.50" y1="448.40" x2="620.50" y2="452.40" stroke="#0d0d0d" stroke-width="0.9" />
<line x1="628.50" y1="448.40" x2="628.50" y2="451.60" stroke="#0d0d0d" stroke-width="0.9" />
<text x="524.3" y="459.9" font-family='"Liberation Sans", sans-serif' font-size="7.6" font-weight="normal" fill="#0d0d0d" text-anchor="middle" >609.0</text>
<text x="564.2" y="459.9" font-family='"Liberation Sans", sans-serif' font-size="7.6" font-weight="normal" fill="#0d0d0d" text-anchor="middle" >609.5</text>
<text x="604.4" y="459.9" font-family='"Liberation Sans", sans-serif' font-size="7.6" font-weight="normal" fill="#0d0d0d" text-anchor="middle" >610.0</text>
<path d="M519.7,448.4 L520.6,446.9 L521.55,416.9 L522.0,369.6 L522.45,416.9 L523.4,446.9 L524.3,448.4" fill="none" stroke="#0d0d0d" stroke-width="1.0" stroke-linejoin="miter"/>
<path d="M547.0,448.4 L547.9,446.9 L548.85,414.2 L549.3,363.0 L549.75,414.2 L550.7,446.9 L551.6,448.4" fill="none" stroke="#0d0d0d" stroke-width="1.0" stroke-linejoin="miter"/>
<path d="M573.3,448.4 L574.2,446.9 L575.05,431.3 L575.5,405.6 L575.95,431.3 L576.8,446.9 L577.7,448.4" fill="none" stroke="#0d0d0d" stroke-width="1.0" stroke-linejoin="miter"/>
<path d="M600.5,448.4 L601.3,446.9 L602.05,442.2 L602.5,433.0 L602.95,442.2 L603.7,446.9 L604.5,448.4" fill="none" stroke="#0d0d0d" stroke-width="0.9" stroke-linejoin="miter"/>
</g>
<text x="468.4" y="116.9" font-family='"Liberation Serif", serif' font-size="19" font-weight="normal" fill="#b51a1a" text-anchor="start" textLength="88.3" lengthAdjust="spacingAndGlyphs" stroke="#b51a1a" stroke-width="0.6">Ion storage</text>
<text x="114.0" y="269.0" font-family='"Liberation Serif", serif' font-size="18.6" font-weight="normal" fill="#b51a1a" text-anchor="start" textLength="190.5" lengthAdjust="spacingAndGlyphs" stroke="#b51a1a" stroke-width="0.5">Store and CID fragment</text>
<text x="52.4" y="313.3" font-family='"Liberation Serif", serif' font-size="19" font-weight="normal" fill="#b51a1a" text-anchor="start" textLength="253.0" lengthAdjust="spacingAndGlyphs" stroke="#b51a1a" stroke-width="0.5">Scan speed vs. spectrum quality</text>
<text x="563.0" y="260.5" font-family='"Liberation Serif", serif' font-size="15.4" font-weight="normal" fill="#a83232" text-anchor="start" textLength="145.7" lengthAdjust="spacingAndGlyphs" >MS and MS/MS scan</text>
<text x="249.2" y="371.7" font-family='"Liberation Serif", serif' font-size="15" font-weight="normal" fill="#161616" text-anchor="start" textLength="92.8" lengthAdjust="spacingAndGlyphs" >Isotopic profile</text>
<text x="581.1" y="376.6" font-family='"Liberation Serif", serif' font-size="15" font-weight="normal" fill="#161616" text-anchor="start" textLength="93.3" lengthAdjust="spacingAndGlyphs" >Isotopic profile</text>
<line x1="489.20" y1="123.40" x2="497.72" y2="146.83" stroke="#0a0a0a" stroke-width="2.9" />
<polygon points="499.60,152.00 494.15,146.53 500.26,144.31" fill="#0a0a0a"/>
<line x1="310.00" y1="252.80" x2="359.85" y2="226.62" stroke="#0a0a0a" stroke-width="2.6" />
<polygon points="365.60,223.60 360.14,230.42 356.89,224.22" fill="#0a0a0a"/>
<line x1="613.30" y1="270.40" x2="557.15" y2="289.69" stroke="#0a0a0a" stroke-width="2.7" />
<polygon points="551.00,291.80 557.43,285.89 559.70,292.51" fill="#0a0a0a"/>
<line x1="466.80" y1="309.00" x2="466.80" y2="325.00" stroke="#0a0a0a" stroke-width="2.2" />
<polygon points="466.80,331.00 462.80,323.50 470.80,323.50" fill="#0a0a0a"/>
<line x1="439.40" y1="298.20" x2="283.26" y2="350.69" stroke="#0a0a0a" stroke-width="2.6" />
<polygon points="275.20,353.40 283.40,346.42 285.95,354.00" fill="#0a0a0a"/>
<line x1="162.60" y1="421.80" x2="187.60" y2="398.60" stroke="#0a0a0a" stroke-width="2.0" />
<line x1="421.20" y1="386.20" x2="477.00" y2="371.80" stroke="#0a0a0a" stroke-width="2.5" />
</svg>
</body></html>
